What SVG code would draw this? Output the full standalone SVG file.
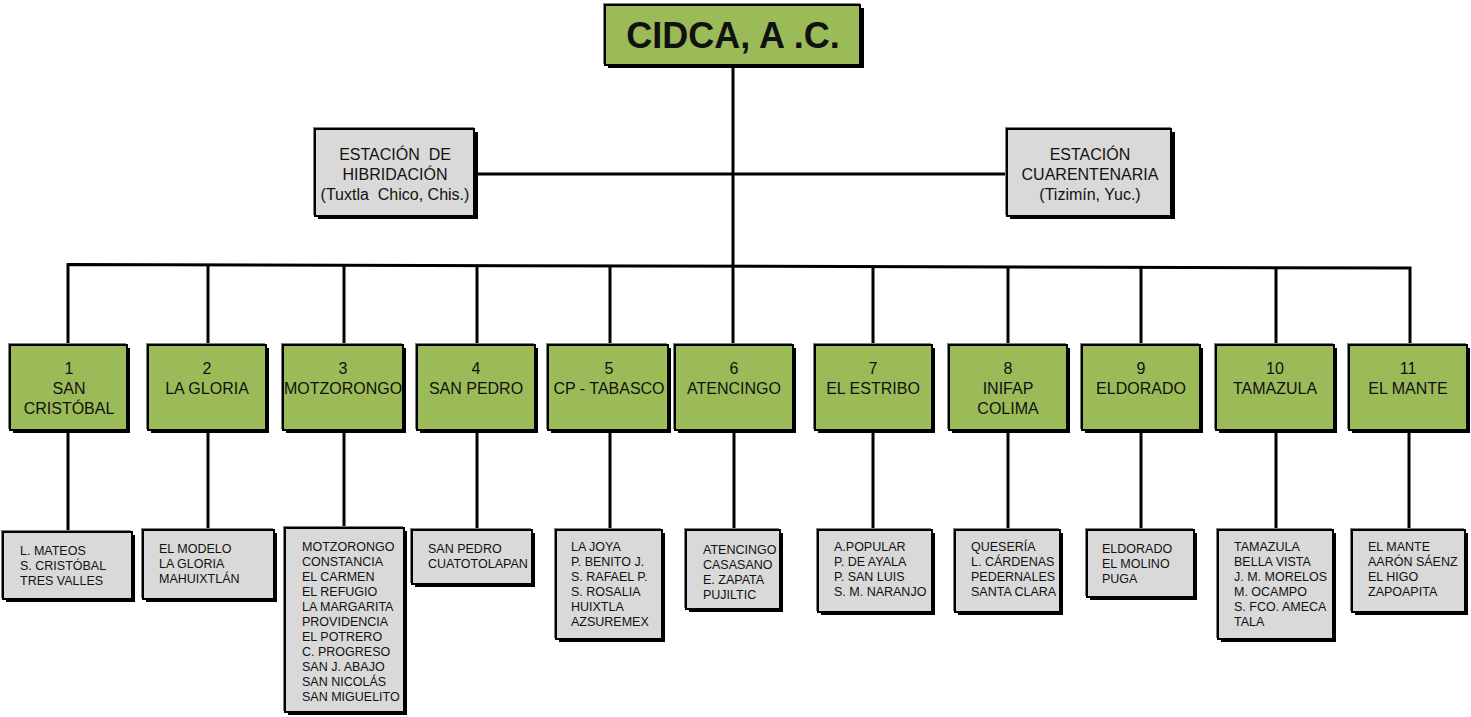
<svg xmlns="http://www.w3.org/2000/svg" width="1471" height="717" viewBox="0 0 1471 717">
<style>
text{font-family:"Liberation Sans",Arial,sans-serif;fill:#111;white-space:pre}
.hl{fill:#808080}
.sh{fill:#000}
.g{fill:#9BBB59;stroke:#000;stroke-width:2}
.s{fill:#D9D9D9;stroke:#000;stroke-width:2}
.t16{font-size:16px;text-anchor:middle}
.t12{font-size:12.5px}
.conn{stroke:#000;stroke-width:3;fill:none}
</style>
<rect width="1471" height="717" fill="#fff"/>
<g id="connectors" class="conn">
<line x1="733" y1="68" x2="733" y2="266"/>
<line x1="475" y1="174" x2="1007" y2="174"/>
<polyline points="68,344 68,264.5 1410,268 1410,344"/>
<line x1="208" y1="265" x2="208" y2="344"/>
<line x1="344" y1="265" x2="344" y2="344"/>
<line x1="477" y1="265.5" x2="477" y2="344"/>
<line x1="610" y1="266" x2="610" y2="344"/>
<line x1="733" y1="266" x2="733" y2="344"/>
<line x1="873" y1="266.5" x2="873" y2="344"/>
<line x1="1008" y1="267" x2="1008" y2="344"/>
<line x1="1141" y1="267" x2="1141" y2="344"/>
<line x1="1276" y1="267.5" x2="1276" y2="344"/>
<line x1="68" y1="432" x2="68" y2="530"/>
<line x1="208" y1="432" x2="208" y2="530"/>
<line x1="344" y1="432" x2="344" y2="528"/>
<line x1="477" y1="432" x2="477" y2="530"/>
<line x1="610" y1="432" x2="610" y2="530"/>
<line x1="734" y1="432" x2="734" y2="530"/>
<line x1="873" y1="432" x2="873" y2="530"/>
<line x1="1008" y1="432" x2="1008" y2="530"/>
<line x1="1141" y1="432" x2="1141" y2="530"/>
<line x1="1276" y1="432" x2="1276" y2="530"/>
<line x1="1409" y1="432" x2="1409" y2="530"/>
</g>
<g id="cidca">
<rect class="hl" x="603" y="3" width="257" height="61"/>
<rect class="sh" x="608" y="8" width="256" height="60"/>
<rect class="g" x="605" y="5" width="255" height="60"/>
<text x="733" y="48" font-size="36" font-weight="bold" text-anchor="middle">CIDCA, A .C.</text>
</g>
<g id="est-hibridacion">
<rect class="hl" x="313" y="127" width="161" height="88"/>
<rect class="sh" x="318" y="132" width="160" height="87"/>
<rect class="s" x="315" y="129" width="159" height="87"/>
<text class="t16" x="395" y="160">ESTACIÓN  DE</text>
<text class="t16" x="395" y="180">HIBRIDACIÓN</text>
<text class="t16" x="395" y="200">(Tuxtla  Chico, Chis.)</text>
</g>
<g id="est-cuarentenaria">
<rect class="hl" x="1005" y="127" width="166" height="88"/>
<rect class="sh" x="1010" y="132" width="165" height="87"/>
<rect class="s" x="1007" y="129" width="164" height="87"/>
<text class="t16" x="1090" y="160">ESTACIÓN</text>
<text class="t16" x="1090" y="180">CUARENTENARIA</text>
<text class="t16" x="1090" y="200">(Tizimín, Yuc.)</text>
</g>
<g id="n1">
<rect class="hl" x="8" y="343" width="118" height="86"/>
<rect class="sh" x="13" y="348" width="117" height="85"/>
<rect class="g" x="10" y="345" width="117" height="85"/>
<text class="t16" x="69" y="374">1</text>
<text class="t16" x="69" y="394">SAN</text>
<text class="t16" x="69" y="414">CRISTÓBAL</text>
</g>
<g id="n2">
<rect class="hl" x="146" y="343" width="119" height="86"/>
<rect class="sh" x="151" y="348" width="118" height="85"/>
<rect class="g" x="148" y="345" width="118" height="85"/>
<text class="t16" x="207" y="374">2</text>
<text class="t16" x="207" y="394">LA GLORIA</text>
</g>
<g id="n3">
<rect class="hl" x="281" y="343" width="121" height="86"/>
<rect class="sh" x="286" y="348" width="120" height="85"/>
<rect class="g" x="283" y="345" width="120" height="85"/>
<text class="t16" x="343" y="374">3</text>
<text class="t16" x="343" y="394">MOTZORONGO</text>
</g>
<g id="n4">
<rect class="hl" x="415" y="343" width="119" height="86"/>
<rect class="sh" x="420" y="348" width="118" height="85"/>
<rect class="g" x="417" y="345" width="118" height="85"/>
<text class="t16" x="476" y="374">4</text>
<text class="t16" x="476" y="394">SAN PEDRO</text>
</g>
<g id="n5">
<rect class="hl" x="546" y="343" width="121" height="86"/>
<rect class="sh" x="551" y="348" width="120" height="85"/>
<rect class="g" x="548" y="345" width="120" height="85"/>
<text class="t16" x="609" y="374">5</text>
<text class="t16" x="609" y="394">CP - TABASCO</text>
</g>
<g id="n6">
<rect class="hl" x="673" y="343" width="119" height="86"/>
<rect class="sh" x="678" y="348" width="118" height="85"/>
<rect class="g" x="675" y="345" width="118" height="85"/>
<text class="t16" x="734" y="374">6</text>
<text class="t16" x="734" y="394">ATENCINGO</text>
</g>
<g id="n7">
<rect class="hl" x="813" y="343" width="118" height="86"/>
<rect class="sh" x="818" y="348" width="117" height="85"/>
<rect class="g" x="815" y="345" width="117" height="85"/>
<text class="t16" x="873" y="374">7</text>
<text class="t16" x="873" y="394">EL ESTRIBO</text>
</g>
<g id="n8">
<rect class="hl" x="947" y="343" width="119" height="86"/>
<rect class="sh" x="952" y="348" width="118" height="85"/>
<rect class="g" x="949" y="345" width="118" height="85"/>
<text class="t16" x="1008" y="374">8</text>
<text class="t16" x="1008" y="394">INIFAP</text>
<text class="t16" x="1008" y="414">COLIMA</text>
</g>
<g id="n9">
<rect class="hl" x="1080" y="343" width="119" height="86"/>
<rect class="sh" x="1085" y="348" width="118" height="85"/>
<rect class="g" x="1082" y="345" width="118" height="85"/>
<text class="t16" x="1141" y="374">9</text>
<text class="t16" x="1141" y="394">ELDORADO</text>
</g>
<g id="n10">
<rect class="hl" x="1214" y="343" width="119" height="86"/>
<rect class="sh" x="1219" y="348" width="118" height="85"/>
<rect class="g" x="1216" y="345" width="118" height="85"/>
<text class="t16" x="1275" y="374">10</text>
<text class="t16" x="1275" y="394">TAMAZULA</text>
</g>
<g id="n11">
<rect class="hl" x="1347" y="343" width="119" height="86"/>
<rect class="sh" x="1352" y="348" width="118" height="85"/>
<rect class="g" x="1349" y="345" width="118" height="85"/>
<text class="t16" x="1408" y="374">11</text>
<text class="t16" x="1408" y="394">EL MANTE</text>
</g>
<g id="l1">
<rect class="hl" x="1" y="530" width="130" height="68"/>
<rect class="sh" x="6" y="535" width="129" height="67"/>
<rect class="s" x="3" y="532" width="129" height="67"/>
<text class="t12" x="20" y="555">L. MATEOS</text>
<text class="t12" x="20" y="570">S. CRISTÓBAL</text>
<text class="t12" x="20" y="585">TRES VALLES</text>
</g>
<g id="l2">
<rect class="hl" x="141" y="528" width="132" height="70"/>
<rect class="sh" x="146" y="533" width="131" height="69"/>
<rect class="s" x="143" y="530" width="131" height="69"/>
<text class="t12" x="159" y="553">EL MODELO</text>
<text class="t12" x="159" y="568">LA GLORIA</text>
<text class="t12" x="159" y="583">MAHUIXTLÁN</text>
</g>
<g id="l3">
<rect class="hl" x="283" y="526" width="120" height="185"/>
<rect class="sh" x="288" y="531" width="119" height="184"/>
<rect class="s" x="285" y="528" width="119" height="184"/>
<text class="t12" x="302" y="551">MOTZORONGO</text>
<text class="t12" x="302" y="566">CONSTANCIA</text>
<text class="t12" x="302" y="581">EL CARMEN</text>
<text class="t12" x="302" y="596">EL REFUGIO</text>
<text class="t12" x="302" y="611">LA MARGARITA</text>
<text class="t12" x="302" y="626">PROVIDENCIA</text>
<text class="t12" x="302" y="641">EL POTRERO</text>
<text class="t12" x="302" y="656">C. PROGRESO</text>
<text class="t12" x="302" y="671">SAN J. ABAJO</text>
<text class="t12" x="302" y="686">SAN NICOLÁS</text>
<text class="t12" x="302" y="701">SAN MIGUELITO</text>
</g>
<g id="l4">
<rect class="hl" x="410" y="528" width="121" height="55"/>
<rect class="sh" x="415" y="533" width="120" height="54"/>
<rect class="s" x="412" y="530" width="120" height="54"/>
<text class="t12" x="428" y="553">SAN PEDRO</text>
<text class="t12" x="428" y="568">CUATOTOLAPAN</text>
</g>
<g id="l5">
<rect class="hl" x="554" y="528" width="107" height="110"/>
<rect class="sh" x="559" y="533" width="106" height="109"/>
<rect class="s" x="556" y="530" width="106" height="109"/>
<text class="t12" x="571" y="551">LA JOYA</text>
<text class="t12" x="571" y="566">P. BENITO J.</text>
<text class="t12" x="571" y="581">S. RAFAEL P.</text>
<text class="t12" x="571" y="596">S. ROSALIA</text>
<text class="t12" x="571" y="611">HUIXTLA</text>
<text class="t12" x="571" y="626">AZSUREMEX</text>
</g>
<g id="l6">
<rect class="hl" x="684" y="528" width="95" height="80"/>
<rect class="sh" x="689" y="533" width="94" height="79"/>
<rect class="s" x="686" y="530" width="94" height="79"/>
<text class="t12" x="703" y="554">ATENCINGO</text>
<text class="t12" x="703" y="569">CASASANO</text>
<text class="t12" x="703" y="584">E. ZAPATA</text>
<text class="t12" x="703" y="599">PUJILTIC</text>
</g>
<g id="l7">
<rect class="hl" x="816" y="528" width="115" height="83"/>
<rect class="sh" x="821" y="533" width="114" height="82"/>
<rect class="s" x="818" y="530" width="114" height="82"/>
<text class="t12" x="834" y="551">A.POPULAR</text>
<text class="t12" x="834" y="566">P. DE AYALA</text>
<text class="t12" x="834" y="581">P. SAN LUIS</text>
<text class="t12" x="834" y="596">S. M. NARANJO</text>
</g>
<g id="l8">
<rect class="hl" x="953" y="528" width="106" height="83"/>
<rect class="sh" x="958" y="533" width="105" height="82"/>
<rect class="s" x="955" y="530" width="105" height="82"/>
<text class="t12" x="971" y="551">QUESERÍA</text>
<text class="t12" x="971" y="566">L. CÁRDENAS</text>
<text class="t12" x="971" y="581">PEDERNALES</text>
<text class="t12" x="971" y="596">SANTA CLARA</text>
</g>
<g id="l9">
<rect class="hl" x="1085" y="528" width="108" height="68"/>
<rect class="sh" x="1090" y="533" width="107" height="67"/>
<rect class="s" x="1087" y="530" width="107" height="67"/>
<text class="t12" x="1102" y="553">ELDORADO</text>
<text class="t12" x="1102" y="568">EL MOLINO</text>
<text class="t12" x="1102" y="583">PUGA</text>
</g>
<g id="l10">
<rect class="hl" x="1216" y="528" width="116" height="110"/>
<rect class="sh" x="1221" y="533" width="115" height="109"/>
<rect class="s" x="1218" y="530" width="115" height="109"/>
<text class="t12" x="1234" y="551">TAMAZULA</text>
<text class="t12" x="1234" y="566">BELLA VISTA</text>
<text class="t12" x="1234" y="581">J. M. MORELOS</text>
<text class="t12" x="1234" y="596">M. OCAMPO</text>
<text class="t12" x="1234" y="611">S. FCO. AMECA</text>
<text class="t12" x="1234" y="626">TALA</text>
</g>
<g id="l11">
<rect class="hl" x="1350" y="528" width="114" height="83"/>
<rect class="sh" x="1355" y="533" width="113" height="82"/>
<rect class="s" x="1352" y="530" width="113" height="82"/>
<text class="t12" x="1368" y="551">EL MANTE</text>
<text class="t12" x="1368" y="566">AARÓN SÁENZ</text>
<text class="t12" x="1368" y="581">EL HIGO</text>
<text class="t12" x="1368" y="596">ZAPOAPITA</text>
</g>
</svg>
